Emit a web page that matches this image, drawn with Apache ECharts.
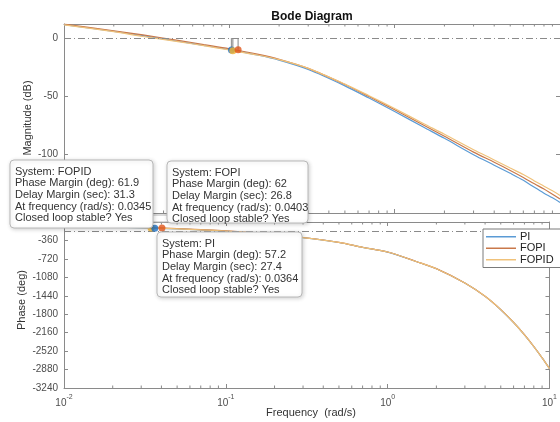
<!DOCTYPE html>
<html><head><meta charset="utf-8">
<script src="https://cdn.jsdelivr.net/npm/echarts@6/dist/echarts.min.js"></script>
<style>html,body{margin:0;padding:0;background:#fff}#c{width:560px;height:422px}</style>
</head><body><div id="c"></div>
<script>
// ---- data ----
const freq     = [0.01, 0.02, 0.03, 0.05, 0.07, 0.1, 0.15, 0.2, 0.3, 0.5, 0.7, 1, 1.5, 2, 3, 4, 5, 6, 7, 8, 9, 10];
const magPI    = [11.5, 5.6, 2.0, -3.0, -6.3, -10.0, -14.8, -19.0, -27.0, -41.0, -51.5, -63.0, -76.5, -86.0, -100, -109, -116, -122, -128, -133, -137, -141];
const magFOPI  = [12.0, 6.2, 2.6, -2.2, -5.6, -9.2, -14.0, -18.2, -26.0, -39.8, -50.2, -61.5, -74.8, -84.2, -97.8, -106.5, -113.5, -119.5, -125, -129.5, -134, -138];
const magFOPID = [11.2, 5.4, 1.3, -3.3, -6.6, -10.3, -14.8, -18.6, -26.0, -39.5, -49.5, -60.5, -73.5, -82.5, -95.8, -104.5, -111.5, -117, -122.5, -127, -131, -135];
const phPI     = [-88, -101, -113, -136, -156, -181, -215, -250, -305, -400, -495, -587, -772, -912, -1192, -1452, -1712, -1962, -2202, -2432, -2652, -2862];
const phFOPI   = [-86, -96, -106, -127, -148, -172, -209, -246, -302, -398, -493, -585, -770, -910, -1190, -1450, -1710, -1960, -2200, -2430, -2650, -2860];
const phFOPID  = [-87, -99, -111, -133, -153, -178, -213, -249, -304, -399, -494, -586, -771, -911, -1191, -1451, -1711, -1961, -2201, -2431, -2651, -2861];
const systems  = ['PI', 'FOPI', 'FOPID'];
const phaseMargin = [57.2, 62, 61.9];
const delayMargin = [27.4, 26.8, 31.3];
const crossFreq   = [0.0364, 0.0403, 0.0345];
const gmFreq      = [0.103, 0.113, 0.105];
const gmMag       = [-10.3, -10.0, -11.0];
const magTicks = { min: -150, max: 12, step: 50 };
const phTicks  = { min: -3240, max: 0, step: 360 };

// ---- styling ----
const lineColors   = ['#5b9bd5', '#c9784a', '#f0c27a'];
const markerColors = ['#1f72c4', '#e0561c', '#f2b431'];
const axisCol = '#8a8a8a';
const labelCol = '#4d4d4d';
const FONT = '"Liberation Sans", Arial, sans-serif';

const zip = (a, b) => a.map((v, i) => [v, b[i]]);
const minorVals = [];
[-2, -1, 0].forEach(k => { for (let m = 2; m <= 9; m++) minorVals.push(+(m * Math.pow(10, k)).toPrecision(3)); });

function xAx(grid, pos, labels) {
  return {
    gridIndex: grid, type: 'log', logBase: 10, min: 0.01, max: 10, position: pos,
    axisLine: { show: true, onZero: false, lineStyle: { color: axisCol, width: 1 } },
    axisTick: { show: true, inside: true, length: 4, lineStyle: { color: axisCol } },
    splitLine: { show: false }, minorTick: { show: false },
    axisLabel: labels ? {
      show: true, margin: 6,
      formatter: v => '{b|10}{s|' + Math.round(Math.log10(v)) + '}',
      rich: {
        b: { fontSize: 10, fontFamily: FONT, color: labelCol, lineHeight: 14, verticalAlign: 'bottom' },
        s: { fontSize: 7, fontFamily: FONT, color: labelCol, lineHeight: 14, verticalAlign: 'top' }
      }
    } : { show: false }
  };
}
function yAx(grid, pos, t, labels) {
  return {
    gridIndex: grid, type: 'value', min: t.min, max: t.max, interval: t.step, position: pos,
    axisLine: { show: true, onZero: false, lineStyle: { color: axisCol, width: 1 } },
    axisTick: { show: true, inside: true, length: 4, lineStyle: { color: axisCol } },
    splitLine: { show: false },
    axisLabel: labels ? {
      show: true, margin: 6, fontSize: 10, fontFamily: FONT, color: labelCol,
      formatter: v => (v % t.step === 0 && v !== t.max) ? String(v) : ''
    } : { show: false }
  };
}

const series = [];
const mags = [magPI, magFOPI, magFOPID];
const phs  = [phPI, phFOPI, phFOPID];
const dashStyle = { type: [7, 3, 1, 3], color: '#8a8a8a', width: 1 };
systems.forEach((s, i) => {
  series.push({
    name: s, type: 'line', xAxisIndex: 0, yAxisIndex: 0, data: zip(freq, mags[i]),
    showSymbol: false, smooth: 0.3, color: lineColors[i], lineStyle: { width: 1.2 }, z: 3,
    markLine: i === 0 ? { silent: true, symbol: 'none', label: { show: false }, lineStyle: dashStyle, data: [{ yAxis: 0 }] } : undefined
  });
});
systems.forEach((s, i) => {
  series.push({
    name: s, type: 'line', xAxisIndex: 2, yAxisIndex: 2, data: zip(freq, phs[i]),
    showSymbol: false, smooth: 0.3, color: lineColors[i], lineStyle: { width: 1.2 }, z: 3,
    markLine: i === 0 ? { silent: true, symbol: 'none', label: { show: false }, lineStyle: dashStyle, data: [{ yAxis: -180 }] } : undefined
  });
});
// gain-margin stems and markers (magnitude plot)
systems.forEach((s, i) => {
  series.push({
    type: 'line', xAxisIndex: 0, yAxisIndex: 0, data: [[gmFreq[i], 0], [gmFreq[i], gmMag[i]]],
    showSymbol: false, color: '#9a9a9a', lineStyle: { width: 1.2 }, silent: true, z: 4
  });
});
[0, 2, 1].forEach(i => {
  series.push({
    type: 'scatter', xAxisIndex: 0, yAxisIndex: 0, data: [[gmFreq[i], gmMag[i]]],
    symbolSize: 7, itemStyle: { color: markerColors[i] }, silent: true, z: 5
  });
});
// phase-margin markers (phase plot)
[2, 0, 1].forEach(i => {
  series.push({
    type: 'scatter', xAxisIndex: 2, yAxisIndex: 2, data: [[crossFreq[i], -180 + phaseMargin[i]]],
    symbolSize: 7, itemStyle: { color: markerColors[i] }, silent: true, z: 5
  });
});
// minor log ticks on both borders of each plot
function minorSeries(ax, t) {
  return {
    type: 'custom', xAxisIndex: ax, yAxisIndex: ax, silent: true, z: 2,
    data: minorVals.map(v => [v, t.max]),
    renderItem: (params, api) => {
      const v = api.value(0);
      const a = api.coord([v, t.max]), b = api.coord([v, t.min]);
      const st = { stroke: axisCol, lineWidth: 1 };
      return { type: 'group', children: [
        { type: 'line', shape: { x1: a[0], y1: a[1], x2: a[0], y2: a[1] + 2.5 }, style: st },
        { type: 'line', shape: { x1: b[0], y1: b[1], x2: b[0], y2: b[1] - 2.5 }, style: st }
      ] };
    }
  };
}
series.push(minorSeries(0, magTicks));
series.push(minorSeries(2, phTicks));

// data-tip boxes
function tipBox(x, y, w, h, i) {
  const lines = [
    'System: ' + systems[i],
    'Phase Margin (deg): ' + phaseMargin[i],
    'Delay Margin (sec): ' + delayMargin[i],
    'At frequency (rad/s): ' + crossFreq[i],
    'Closed loop stable? Yes'
  ];
  return {
    type: 'group', x: x, y: y, z: 100, children: [
      { type: 'rect', z: 100, shape: { x: 0, y: 0, width: w, height: h, r: 4 },
        style: { fill: '#fff', stroke: '#b8b8b8', lineWidth: 1, shadowBlur: 4, shadowColor: 'rgba(0,0,0,0.18)', shadowOffsetX: 1, shadowOffsetY: 1 } },
      { type: 'text', z: 101, x: 5, y: 6, style: { text: lines.join('\n'), font: '11px ' + FONT, fill: '#333', lineHeight: 11.6, verticalAlign: 'top' } }
    ]
  };
}

const option = {
  animation: false,
  backgroundColor: '#fff',
  grid: [
    { left: 64, top: 24, width: 497, height: 189 },
    { left: 64, top: 222, width: 497, height: 166 }
  ],
  xAxis: [xAx(0, 'bottom', false), xAx(0, 'top', false), xAx(1, 'bottom', true), xAx(1, 'top', false)],
  yAxis: [yAx(0, 'left', magTicks, true), yAx(0, 'right', magTicks, false), yAx(1, 'left', phTicks, true), yAx(1, 'right', phTicks, false)],
  legend: {
    data: systems, orient: 'vertical', left: 483, top: 229, itemGap: 0,
    icon: 'rect', itemWidth: 30, itemHeight: 1.5,
    padding: [2, 20, 2, 3], borderColor: '#7a7a7a', borderWidth: 1, backgroundColor: '#fff',
    textStyle: { fontSize: 11, fontFamily: FONT, color: '#222', lineHeight: 11.5, padding: [0, 0, 0, -1] },
    z: 50
  },
  graphic: [
    { type: 'text', x: 312, y: 17, z: 60, style: { text: 'Bode Diagram', font: 'bold 12px ' + FONT, fill: '#111', align: 'center', verticalAlign: 'middle' } },
    { type: 'text', x: 28, y: 118, rotation: Math.PI / 2, z: 60, style: { text: 'Magnitude (dB)', font: '11px ' + FONT, fill: '#333', align: 'center', verticalAlign: 'middle' } },
    { type: 'text', x: 22, y: 300, rotation: Math.PI / 2, z: 60, style: { text: 'Phase (deg)', font: '11px ' + FONT, fill: '#333', align: 'center', verticalAlign: 'middle' } },
    { type: 'text', x: 311, y: 413, z: 60, style: { text: 'Frequency  (rad/s)', font: '11px ' + FONT, fill: '#333', align: 'center', verticalAlign: 'middle' } },
    { type: 'rect', z: 99, shape: { x: 152, y: 215, width: 16, height: 7 }, style: { fill: '#fff', stroke: '#b8b8b8', lineWidth: 1 } },
    tipBox(10, 160, 143, 68, 2),
    tipBox(167, 161, 141, 62, 1),
    tipBox(157, 232, 145, 65, 0)
  ],
  series: series
};
const chart = echarts.init(document.getElementById('c'), null, { renderer: 'canvas' });
chart.setOption(option);
</script></body></html>
